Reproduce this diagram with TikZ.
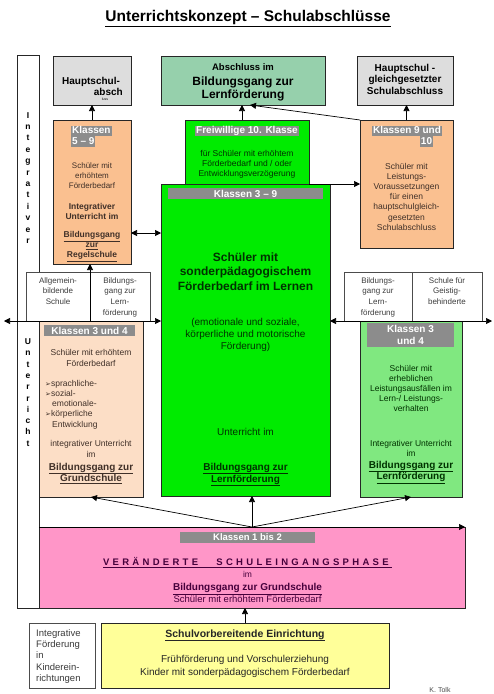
\documentclass[tikz,border=0pt]{standalone}
\usepackage{fontspec}
\setmainfont{Liberation Sans}
\newfontfamily\dejavu{DejaVu Sans}
\usetikzlibrary{arrows.meta}
\definecolor{graybox}{RGB}{221,221,221}
\definecolor{tealbox}{RGB}{150,208,172}
\definecolor{peach}{RGB}{250,192,144}
\definecolor{lightpeach}{RGB}{252,222,198}
\definecolor{brightgreen}{RGB}{0,235,0}
\definecolor{lightgreen}{RGB}{128,232,128}
\definecolor{pinkbox}{RGB}{255,150,200}
\definecolor{yellowbox}{RGB}{255,255,153}
\definecolor{hlgray}{RGB}{140,140,140}
\definecolor{peachtxt}{RGB}{64,48,40}
\definecolor{greentxt}{RGB}{0,50,0}
\definecolor{pinktxt}{RGB}{70,0,60}
\definecolor{graytxt}{RGB}{60,60,60}
\newcommand{\fs}[2]{\fontsize{#1}{#2}\selectfont}
\def\spreadit#1{\ifx#1\relax\else#1\kern3.3pt\expandafter\spreadit\fi}
\newcommand{\arrowbullet}{{\dejavu\fontsize{7}{7}\selectfont ➢}}
\begin{document}
\begin{tikzpicture}[x=1pt,y=-1pt,
  bx/.style={draw=black!85, line width=0.6pt, inner sep=0pt, outer sep=0pt, anchor=north west},
  arr/.style={-{Triangle[length=6pt,width=6pt]}, line width=0.7pt},
  arrtwo/.style={{Triangle[length=6pt,width=6pt]}-{Triangle[length=6pt,width=6pt]}, line width=0.7pt},
  txt/.style={inner sep=0pt, anchor=base, align=center},
  hl/.style={fill=hlgray, text=white, font=\fs{10}{12}\bfseries, inner xsep=1pt, inner ysep=0.5pt, text height=7.5pt, text depth=2pt},
  bar/.style={fill=hlgray, text=white, inner sep=0pt, align=center}]
\useasboundingbox (0,0) rectangle (494,694);
\fill[white] (0,0) rectangle (494,694);

% title
\node[txt, font=\fs{15.5}{17}\bfseries] (title) at (248,21.5) {\underline{Unterrichtskonzept – Schulabschlüsse}};

% left column
\node[bx, fill=white, minimum width=22pt, minimum height=553pt] (col) at (17,55) {};
\node[txt, font=\fs{8.5}{11.4}\bfseries] (integ) at (28,243.4) {I\\n\\t\\e\\g\\r\\a\\t\\i\\v\\e\\r};
\node[txt, font=\fs{8.5}{11.3}\bfseries] (unter) at (28,446.2) {U\\n\\t\\e\\r\\r\\i\\c\\h\\t};

% top row
\node[bx, fill=graybox, minimum width=78pt, minimum height=49pt] (hs1) at (53,56) {};
\node[txt, font=\fs{10}{11}\bfseries] (hs1t1) at (91,84) {Hauptschul-};
\node[txt, anchor=base east, font=\fs{10}{11}\bfseries] (hs1t2) at (123,95) {absch};
\node[txt, font=\fs{3.5}{4}] (hs1s) at (105,100.5) {luss};
\node[bx, fill=tealbox, minimum width=164pt, minimum height=49pt] (absch) at (161,56) {};
\node[txt, font=\fs{9.5}{11}\bfseries] (abscht1) at (243,70.5) {Abschluss im};
\node[txt, font=\fs{12}{12.5}\bfseries] (abscht2) at (243,98) {Bildungsgang zur\\Lernförderung};
\node[bx, fill=graybox, minimum width=96pt, minimum height=49pt] (hs2) at (357,56) {};
\node[txt, font=\fs{10}{11.5}\bfseries] (hs2t) at (405,94) {Hauptschul -\\gleichgesetzter\\Schulabschluss};

% Klassen 5-9
\node[bx, fill=peach, minimum width=78pt, minimum height=144pt] (k59) at (53,120) {};
\node[hl, anchor=base west] (k59h1) at (71,133.5) {Klassen};
\node[hl, anchor=base west] (k59h2) at (71,144) {5 – 9};
\node[txt, font=\fs{8}{10}, text=peachtxt] (k59b1) at (92,188) {Schüler mit\\erhöhtem\\Förderbedarf};
\node[txt, font=\fs{8.5}{10}\bfseries, text=peachtxt] (k59b2) at (92,219) {Integrativer\\Unterricht im};
\node[txt, font=\fs{8.5}{10}\bfseries, text=peachtxt] (k59b3) at (92,257.5) {\underline{Bildungsgang}\\\underline{zur}\\\underline{Regelschule}};

% Freiwillige 10. Klasse
\node[bx, fill=brightgreen, minimum width=124pt, minimum height=64pt] (freiw) at (185,120) {};
\node[hl] (freiwh) at (247,131) {Freiwillige 10. Klasse};
\node[txt, font=\fs{8.5}{10}, text=greentxt] (freiwb) at (247,176) {für Schüler mit erhöhtem\\Förderbedarf und / oder\\Entwicklungsverzögerung};

% Klassen 3-9
\node[bx, fill=brightgreen, minimum width=169pt, minimum height=312pt] (k39) at (161,184) {};
\node[bar, font=\fs{10}{12}\bfseries, minimum width=155pt, minimum height=11pt] (k39h) at (245.5,193.5) {Klassen 3 – 9};
\node[txt, font=\fs{12}{14.5}\bfseries, text=greentxt] (k39b1) at (245.5,290) {Schüler mit\\sonderpädagogischem\\Förderbedarf im Lernen};
\node[txt, font=\fs{10}{12}, text=greentxt] (k39b2) at (245.5,349.5) {(emotionale und soziale,\\körperliche und motorische\\Förderung)};
\node[txt, font=\fs{10}{12}, text=greentxt] (k39b3) at (245.5,435.5) {Unterricht im};
\node[txt, font=\fs{10}{12}\bfseries, text=greentxt] (k39b4) at (245.5,482) {\underline{Bildungsgang zur}\\\underline{Lernförderung}};

% Klassen 9 und 10
\node[bx, fill=peach, minimum width=93pt, minimum height=128pt] (k910) at (360,120) {};
\node[hl, anchor=base] (k910h1) at (407,133.5) {Klassen 9 und};
\node[hl, anchor=base] (k910h2) at (426.5,144) {10};
\node[txt, font=\fs{8.5}{10.2}, text=peachtxt] (k910b) at (406.5,230.2) {Schüler mit\\Leistungs-\\Voraussetzungen\\für einen\\hauptschulgleich-\\gesetzten\\Schulabschluss};

% white boxes
\node[bx, draw=black!70, fill=white, minimum width=64pt, minimum height=49pt] (wb1) at (26,272) {};
\node[bx, draw=black!70, fill=white, minimum width=60pt, minimum height=49pt] (wb2) at (90,272) {};
\node[bx, draw=black!70, fill=white, minimum width=68pt, minimum height=49pt] (wb3) at (344,272) {};
\node[bx, draw=black!70, fill=white, minimum width=70pt, minimum height=49pt] (wb4) at (412,272) {};
\node[txt, font=\fs{8}{10.7}, text=graytxt] (wb1t) at (58,304.4) {Allgemein-\\bildende\\Schule};
\node[txt, font=\fs{8}{10.7}, text=graytxt] (wb2t) at (120,315.1) {Bildungs-\\gang zur\\Lern-\\förderung};
\node[txt, font=\fs{8}{10.7}, text=graytxt] (wb3t) at (378,315.1) {Bildungs-\\gang zur\\Lern-\\förderung};
\node[txt, font=\fs{8}{10.7}, text=graytxt] (wb4t) at (447,304.4) {Schule für\\Geistig-\\behinderte};

% Klassen 3 und 4 (left)
\node[bx, fill=lightpeach, minimum width=104pt, minimum height=176pt] (k34l) at (39,321) {};
\node[bar, font=\fs{10}{12}\bfseries, minimum width=91pt, minimum height=11pt] (k34lh) at (89.5,330.5) {Klassen 3 und 4};
\node[txt, font=\fs{8.5}{11}, text=peachtxt] (k34lb1) at (91,366) {Schüler mit erhöhtem\\Förderbedarf};
\node[txt, anchor=base west, align=left, font=\fs{8.5}{10.3}, text=peachtxt] (k34lb2) at (45,427.2) {\arrowbullet sprachliche-\\\arrowbullet sozial-\\\hspace*{7pt}emotionale-\\\arrowbullet körperliche\\\hspace*{7pt}Entwicklung};
\node[txt, font=\fs{8.5}{11}, text=peachtxt] (k34lb3) at (91,457) {integrativer Unterricht\\im};
\node[txt, font=\fs{10}{11.5}\bfseries, text=peachtxt] (k34lb4) at (91,481.5) {\underline{Bildungsgang zur}\\\underline{Grundschule}};

% Klassen 3 und 4 (right)
\node[bx, fill=lightgreen, minimum width=102pt, minimum height=176pt] (k34r) at (360,321) {};
\node[bar, font=\fs{10}{11.5}\bfseries, minimum width=87pt, minimum height=24pt] (k34rh) at (410.5,335) {Klassen 3\\und 4};
\node[txt, font=\fs{8.5}{10}, text=greentxt] (k34rb1) at (411,411) {Schüler mit\\erheblichen\\Leistungsausfällen im\\Lern-/ Leistungs-\\verhalten};
\node[txt, font=\fs{8.5}{10.5}, text=greentxt] (k34rb2) at (411,456.5) {Integrativer Unterricht\\im};
\node[txt, font=\fs{10}{11.5}\bfseries, text=greentxt] (k34rb3) at (411,479.5) {\underline{Bildungsgang zur}\\\underline{Lernförderung}};

% pink box
\node[bx, fill=pinkbox, minimum width=426pt, minimum height=81pt] (pink) at (39,527) {};
\node[bar, font=\fs{9.5}{11}\bfseries, minimum width=135pt, minimum height=11pt] (pinkh) at (247.5,537.5) {Klassen 1 bis 2};
\node[txt, font=\fs{9.5}{11}\bfseries, text=pinktxt] (pinks) at (247.5,565.5) {\underline{\spreadit VERÄNDERTE\relax\hspace{15pt}\spreadit SCHULEINGANGSPHASE\relax}};
\node[txt, font=\fs{8.5}{10}, text=pinktxt] (pinkim) at (247.5,577) {im};
\node[txt, font=\fs{10}{11}\bfseries, text=pinktxt] (pinkb) at (247.5,590.5) {\underline{Bildungsgang zur Grundschule}};
\node[txt, font=\fs{9.5}{11}, text=pinktxt] (pinkc) at (247.5,602.5) {Schüler mit erhöhtem Förderbedarf};

% bottom row
\node[bx, draw=black!70, fill=white, minimum width=66pt, minimum height=65pt] (intf) at (29,623) {};
\node[txt, anchor=base west, align=left, font=\fs{9.5}{11.2}, text=graytxt] (intft) at (36,681.3) {Integrative\\Förderung\\in\\Kinderein-\\richtungen};
\node[bx, fill=yellowbox, minimum width=288pt, minimum height=65pt] (yel) at (101,623) {};
\node[txt, font=\fs{10.5}{12}\bfseries, text=black!85] (yelt1) at (245,637) {\underline{Schulvorbereitende Einrichtung}};
\node[txt, font=\fs{10}{13}, text=black!85] (yelt2) at (245,675) {Frühförderung und Vorschulerziehung\\Kinder mit sonderpädagogischem Förderbedarf};
\node[txt, font=\fs{7}{8}, text=black!70] (tolk) at (440,692) {K. Tolk};

% connectors
\coordinate (f1) at ([xshift=-5pt]freiw.north);
\coordinate (a3end) at ([xshift=7pt]absch.south);
\coordinate (y233) at (0,233);
\coordinate (lend) at (4,321);
\coordinate (rend) at (492,321);
\draw[arr] (k59.north) -- (hs1.south);
\draw[arr] (f1) -- (f1 |- absch.south);
\draw[arr] (k910.north west) -- (a3end);
\draw[arr] (k910.north) -- (k910.north |- hs2.south);
\draw[arrtwo] (k59.east |- y233) -- (k39.west |- y233);
\draw[arr] (freiw.south east) -- (k910.west |- freiw.south east);
\draw[arrtwo] (lend) -- (k39.west |- lend);
\draw[arrtwo] (k39.east |- rend) -- (rend);
\draw[arr] (wb1.south east) -- (wb1.south east |- k59.south);
\draw[arr] (pink.north) -- (k34l.south);
\draw[arr] (pink.north) -- (pink.north |- k39.south);
\draw[arr] (pink.north) -- (k34r.south);
\draw[arr] (pink.north west) -- (pink.north east);
\draw[arr] (yel.north) -- (yel.north |- pink.south);
\end{tikzpicture}
\end{document}
